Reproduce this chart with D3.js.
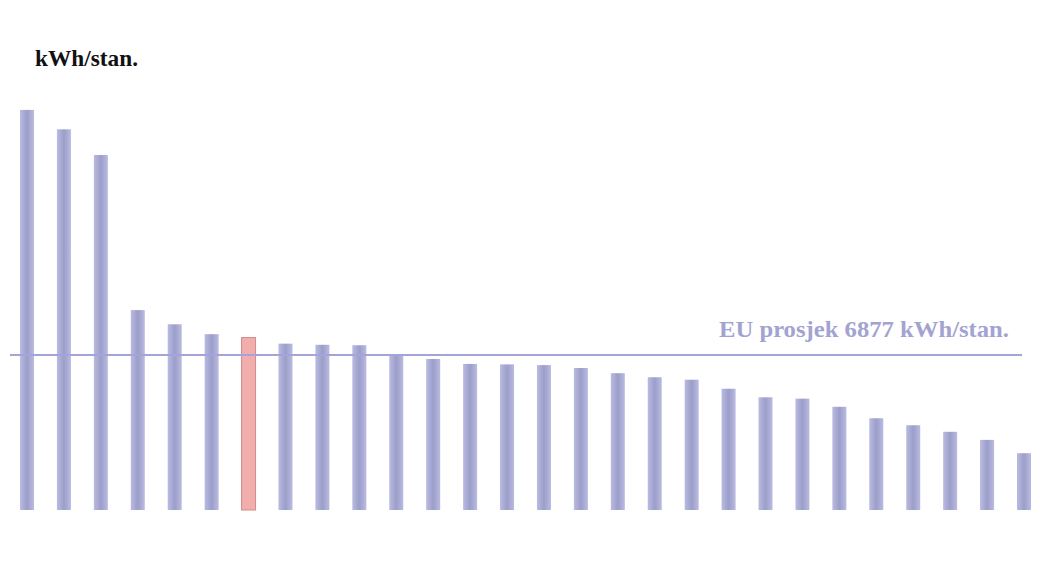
<!DOCTYPE html>
<html>
<head>
<meta charset="utf-8">
<script src="https://cdn.jsdelivr.net/npm/d3@7"></script>
<style>
  html, body { margin: 0; padding: 0; background: #ffffff; }
  svg { display: block; }
</style>
</head>
<body>
<svg id="chart" width="1046" height="565"></svg>
<script>
// Data (kWh per inhabitant)
const categories = ["1","2","3","4","5","6","7","8","9","10","11","12","13","14","15","16","17","18","19","20","21","22","23","24","25","26","27","28"];
const values = [17750, 16890, 15750, 8870, 8240, 7800, 7650, 7380, 7330, 7310, 6850, 6700, 6480, 6460, 6430, 6300, 6070, 5890, 5780, 5380, 5000, 4940, 4580, 4070, 3760, 3470, 3110, 2520];
const highlightIndex = [6];
const euAverage = 6877;
const unitLabel = "kWh/stan.";
const avgLabel = "EU prosjek 6877 kWh/stan.";

const svg = d3.select("#chart");

const defs = svg.append("defs");
const gBlue = defs.append("linearGradient").attr("id", "gBlue").attr("x1", "0").attr("x2", "1").attr("y1", "0").attr("y2", "0");
gBlue.append("stop").attr("offset", "0%").attr("stop-color", "#b9bbe0");
gBlue.append("stop").attr("offset", "50%").attr("stop-color", "#9c9ecb");
gBlue.append("stop").attr("offset", "100%").attr("stop-color", "#b9bbe0");

const x = d3.scalePoint().domain(categories).range([27, 1024]);
const y = d3.scaleLinear().domain([0, euAverage]).range([510, 355]);
const barW = 14;

const data = categories.map((c, i) => ({ c, v: values[i], hl: highlightIndex.includes(i) }));

svg.append("g").selectAll("rect").data(data).join("rect")
  .attr("x", d => x(d.c) - barW / 2)
  .attr("y", d => y(d.v))
  .attr("width", barW)
  .attr("height", d => y(0) - y(d.v))
  .attr("fill", d => d.hl ? "#f2aeac" : "url(#gBlue)")
  .attr("stroke", d => d.hl ? "#cf8c8a" : "none")
  .attr("stroke-width", 1);

// EU average line
svg.append("line")
  .attr("x1", 10).attr("x2", 1022)
  .attr("y1", y(euAverage)).attr("y2", y(euAverage))
  .attr("stroke", "#a4a4da")
  .attr("stroke-width", 2.2);

svg.append("text")
  .attr("x", 719).attr("y", 337)
  .attr("font-family", "'Liberation Serif', 'Times New Roman', serif")
  .attr("font-weight", "bold")
  .attr("font-size", 23)
  .attr("fill", "#a3a3d2")
  .attr("textLength", 290)
  .attr("lengthAdjust", "spacingAndGlyphs")
  .text(avgLabel);

svg.append("text")
  .attr("x", 35).attr("y", 66)
  .attr("font-family", "'Liberation Serif', 'Times New Roman', serif")
  .attr("font-weight", "bold")
  .attr("font-size", 23)
  .attr("fill", "#111111")
  .attr("textLength", 103)
  .attr("lengthAdjust", "spacingAndGlyphs")
  .text(unitLabel);
</script>
</body>
</html>
